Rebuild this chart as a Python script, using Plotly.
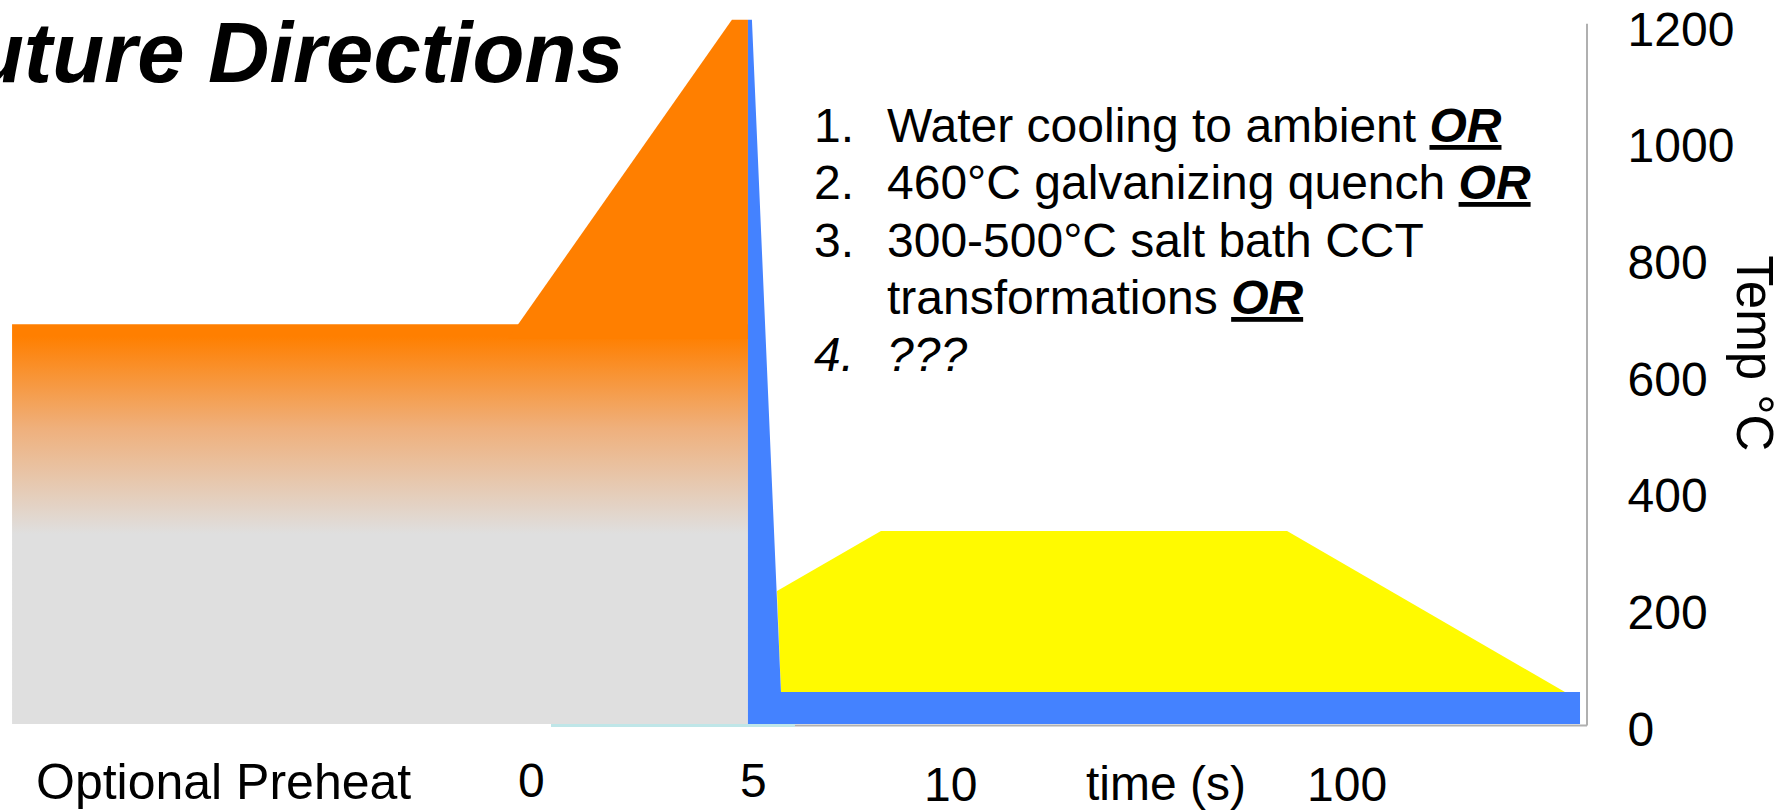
import plotly.graph_objects as go

# ---- data (schematic time position units 0-100, temperature in °C) ----
preheat_x = [0.76, 47.13, 47.13, 0.76]
preheat_y = [0, 0, 685, 685]

ramp_x = [32.0, 46.12, 47.13, 47.13]
ramp_y = [660, 1207, 1207, 660]

quench_x = [47.13, 47.38, 49.21, 99.56, 99.56, 47.13]
quench_y = [1207, 1207, 55, 55, 0, 0]

saltbath_x = [48.96, 55.51, 81.10, 98.61, 49.21]
saltbath_y = [228, 331, 331, 55, 55]

base_cyan_x = [34.72, 50.09]
base_gray_x = [50.09, 100.0]
base_y = [-2.5, -2.5]

x_tick_pos = [14.1, 33.46, 47.5, 59.9, 73.5, 84.9]
x_tick_text = ["Optional Preheat", "0", "5", "10", "time (s)", "100"]
x_tick_shift = [-55, -53, -53, -57, -56, -57]

y_tick_vals = [0, 200, 400, 600, 800, 1000, 1200]

list_numbers = ["1.", "2.", "3.", "", "<i>4.</i>"]
list_lines = [
    "Water cooling to ambient <b><i><u>OR</u></i></b>",
    "460°C galvanizing quench <b><i><u>OR</u></i></b>",
    "300-500°C salt bath CCT",
    "transformations <b><i><u>OR</u></i></b>",
    "<i>???</i>",
]
list_y = [0.8482, 0.7673, 0.6855, 0.6051, 0.5247]

FONT = "Liberation Sans, Arial, sans-serif"

fig = go.Figure()

fig.add_trace(go.Scatter(
    x=preheat_x, y=preheat_y, mode="lines", fill="toself",
    line=dict(width=0, color="rgba(0,0,0,0)"),
    fillgradient=dict(type="vertical",
                      colorscale=[[0, "#dfdfdf"], [0.475, "#dfdfdf"],
                                  [0.74, "#efb07c"], [0.97, "#ff7f00"], [1, "#ff7f00"]],
                      start=0, stop=685),
    hoverinfo="skip", showlegend=False))

fig.add_trace(go.Scatter(
    x=ramp_x, y=ramp_y, mode="lines", fill="toself", fillcolor="#ff7f00",
    line=dict(width=0, color="rgba(0,0,0,0)"), hoverinfo="skip", showlegend=False))

fig.add_trace(go.Scatter(
    x=saltbath_x, y=saltbath_y, mode="lines", fill="toself", fillcolor="#fffa00",
    line=dict(width=0, color="rgba(0,0,0,0)"), hoverinfo="skip", showlegend=False))

fig.add_trace(go.Scatter(
    x=quench_x, y=quench_y, mode="lines", fill="toself", fillcolor="#4482ff",
    line=dict(width=0, color="rgba(0,0,0,0)"), hoverinfo="skip", showlegend=False))

fig.add_trace(go.Scatter(
    x=base_cyan_x, y=base_y, mode="lines", line=dict(width=3, color="#bfe6e8"),
    hoverinfo="skip", showlegend=False))
fig.add_trace(go.Scatter(
    x=base_gray_x, y=base_y, mode="lines", line=dict(width=2, color="#b0b0b0"),
    hoverinfo="skip", showlegend=False))

# right axis line
fig.add_shape(type="line", xref="paper", yref="y", x0=1, x1=1, y0=-2.5, y1=1200,
              line=dict(color="#b0b0b0", width=2))

annotations = []
# title (cut at left edge)
annotations.append(dict(text="<b><i>Future Directions</i></b>", xref="paper", yref="paper",
                        x=0.3945, y=0.951, xanchor="right", yanchor="middle",
                        showarrow=False, font=dict(family=FONT, size=85, color="black")))
for num, line, yy in zip(list_numbers, list_lines, list_y):
    if num:
        annotations.append(dict(text=num, xref="paper", yref="paper", x=0.5115, y=yy,
                                xanchor="left", yanchor="middle", showarrow=False,
                                font=dict(family=FONT, size=48, color="black")))
    annotations.append(dict(text=line, xref="paper", yref="paper", x=0.5575, y=yy,
                            xanchor="left", yanchor="middle", showarrow=False,
                            font=dict(family=FONT, size=48, color="black")))
for xp, txt, sh in zip(x_tick_pos, x_tick_text, x_tick_shift):
    fs = 50 if txt == "Optional Preheat" else 48
    annotations.append(dict(text=txt, xref="x", yref="paper", x=xp, y=0, yshift=sh,
                            xanchor="center", yanchor="middle", showarrow=False,
                            font=dict(family=FONT, size=fs, color="black")))
annotations.append(dict(text="Temp °C", xref="paper", yref="paper", x=1.1055, y=0.5265,
                        xanchor="center", yanchor="middle", textangle=90, showarrow=False,
                        font=dict(family=FONT, size=51, color="black")))

fig.update_layout(
    width=1783, height=810, autosize=False,
    margin=dict(l=0, r=196, t=18, b=83, pad=0, autoexpand=False),
    paper_bgcolor="white", plot_bgcolor="white",
    showlegend=False,
    annotations=annotations,
    xaxis=dict(range=[0, 100], showgrid=False, zeroline=False, showticklabels=False,
               showline=False, ticks="", automargin=False),
    yaxis=dict(range=[-5, 1210], side="right", showgrid=False, zeroline=False,
               showline=False, tickvals=y_tick_vals, ticks="outside", ticklen=30,
               tickcolor="rgba(0,0,0,0)", ticklabeloverflow="allow",
               ticklabelshift=5, automargin=False,
               tickfont=dict(family=FONT, size=48, color="black")),
)

fig.write_html("out.html")
